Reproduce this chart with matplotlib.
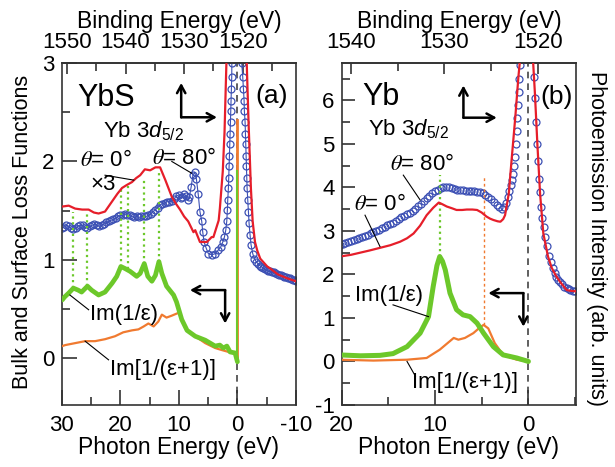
import matplotlib
matplotlib.use("Agg")
import matplotlib.pyplot as plt
from matplotlib.ticker import MultipleLocator, FixedLocator

plt.rcParams['font.family'] = ['Liberation Sans', 'DejaVu Sans']
plt.rcParams['mathtext.fontset'] = 'custom'
plt.rcParams['mathtext.rm'] = 'Liberation Sans'
plt.rcParams['mathtext.it'] = 'Liberation Sans:italic'
plt.rcParams['axes.unicode_minus'] = False

RED = '#e61e2a'
BLUE = '#3c50b4'
GREEN = '#6cc82a'
ORANGE = '#f07a30'
SPINE = '#333333'

# ---------------- Panel (a): YbS ----------------
be_offset_a = 1520.9
be_ticks_a = [1550, 1540, 1530, 1520]
be_minor_a = [1545, 1535, 1525, 1515]
blue_a_E = [30.0, 29.6, 29.2, 28.8, 28.4, 28.0, 27.6, 27.2, 26.8, 26.4, 26.0, 25.6, 25.2, 24.8,
            24.4, 24.0, 23.6, 23.2, 22.8, 22.4, 22.0, 21.6, 21.2, 20.8, 20.4, 20.0, 19.6, 19.2,
            18.8, 18.4, 18.0, 17.6, 17.2, 16.8, 16.4, 16.0, 15.6, 15.2, 14.8, 14.4, 14.0, 13.6,
            13.2, 12.8, 12.4, 12.0, 11.6, 11.2, 10.8, 10.4, 10.0, 9.7, 9.4, 9.1, 8.8, 8.5, 8.2,
            7.9, 7.6, 7.3, 7.0, 6.7, 6.4, 6.09, 5.92, 5.69, 5.35, 4.95, 4.38, 3.81, 3.24, 2.84,
            2.50, 2.22, 1.99, 1.82, 1.71, 1.65, 1.54, 1.48, 1.42, 1.37, 1.30, 1.25, 1.18, 1.14,
            1.08, 1.02, 0.97, 0.95, 0.1, -0.74, -0.91, -1.02, -1.14, -1.19, -1.31, -1.37, -1.42,
            -1.48, -1.54, -1.59, -1.65, -1.76, -1.88, -1.99, -2.16, -2.33, -2.62, -2.9, -3.2,
            -3.5, -3.8, -4.1, -4.4, -4.7, -5.0, -5.3, -5.6, -5.9, -6.2, -6.5, -6.8, -7.1, -7.4,
            -7.7, -8.0, -8.3, -8.6, -8.9, -9.2, -9.5, -9.8, -10.0]
blue_a_I = [1.32, 1.33, 1.35, 1.34, 1.32, 1.31, 1.32, 1.34, 1.35, 1.35, 1.33, 1.32, 1.34, 1.35,
            1.36, 1.35, 1.34, 1.35, 1.36, 1.38, 1.39, 1.40, 1.41, 1.42, 1.44, 1.45, 1.45, 1.46,
            1.45, 1.45, 1.44, 1.43, 1.44, 1.43, 1.44, 1.44, 1.44, 1.45, 1.47, 1.49, 1.51, 1.53,
            1.56, 1.57, 1.58, 1.59, 1.59, 1.60, 1.62, 1.65, 1.66, 1.63, 1.64, 1.67, 1.65, 1.61, 1.64,
            1.74, 1.86, 1.89, 1.82, 1.67, 1.49, 1.39, 1.28, 1.18, 1.12, 1.06, 1.05, 1.06, 1.10, 1.13,
            1.18, 1.23, 1.30, 1.39, 1.51, 1.61, 1.73, 1.83, 1.95, 2.06, 2.18, 2.28, 2.40, 2.51,
            2.62, 2.74, 2.86, 3.0, 3.6, 3.0, 2.86, 2.74, 2.62, 2.51, 2.40, 2.28, 2.18,
            2.06, 1.95, 1.83, 1.73, 1.61, 1.49, 1.37, 1.25, 1.15, 1.06, 1.01, 0.98,
            0.96, 0.94, 0.93, 0.91, 0.90, 0.89, 0.88, 0.88, 0.87, 0.87, 0.86, 0.85, 0.84, 0.84,
            0.83, 0.82, 0.82, 0.81, 0.81, 0.80, 0.79, 0.79, 0.78]

red_a_E = [30.0, 28.8, 27.7, 26.5, 25.4, 24.5, 23.7, 22.6, 21.9, 21.2, 20.5, 19.7, 18.9, 18.0,
           17.3, 16.6, 15.8, 14.9, 14.0, 13.2, 12.3, 11.2, 10.5, 9.8, 9.1, 8.4, 7.5, 7.2, 6.4,
           5.8, 5.2, 4.4, 4.1, 3.2, 3.0, 2.5, 2.2, 1.9, 1.6, 0.2, -1.4, -1.6, -1.9, -2.3, -2.6,
           -3.0, -3.4, -3.9, -5.1, -5.6, -6.9, -7.3, -8.5, -10.0]
red_a_I = [1.54, 1.55, 1.52, 1.51, 1.51, 1.48, 1.47, 1.49, 1.55, 1.61, 1.67, 1.73, 1.76, 1.79,
           1.83, 1.86, 1.92, 1.91, 1.94, 1.94, 1.81, 1.64, 1.57, 1.51, 1.44, 1.39, 1.28, 1.30, 1.18,
           1.18, 1.18, 1.23, 1.23, 1.40, 1.52, 1.90, 2.30, 2.96, 3.5, 4.5, 3.5, 2.98, 2.40, 1.73, 1.39,
           1.18, 1.09, 1.01, 0.93, 0.91, 0.85, 0.84, 0.81, 0.78]

green_a_E = [29.9, 29.5, 28.8, 28.0, 27.2, 26.6, 25.6, 24.9, 23.7, 22.6, 21.4, 20.6, 19.9, 19.2,
             18.3, 17.2, 16.6, 15.9, 15.3, 14.6, 14.0, 13.4, 12.9, 12.1, 10.9, 10.4, 9.5, 8.6,
             7.2, 5.5, 3.8, 3.0, 2.4, 1.8, 1.25, 0.4, 0.0]
green_a_I = [0.59, 0.62, 0.66, 0.71, 0.69, 0.67, 0.73, 0.69, 0.64, 0.67, 0.76, 0.83, 0.93, 0.91,
             0.88, 0.83, 0.86, 0.96, 0.83, 0.78, 0.84, 0.98, 0.86, 0.73, 0.64, 0.57, 0.39, 0.28,
             0.22, 0.18, 0.12, 0.13, 0.10, 0.12, 0.06, 0.05, -0.04]
green_a_spike = 1.90

orange_a_E = [29.9, 29.4, 27.7, 26.0, 24.3, 22.6, 20.9, 19.5, 18.0, 16.9, 16.0, 15.2, 14.3, 13.5,
              12.9, 12.1, 11.2, 10.4, 10.0, 9.5, 8.6, 7.2, 5.5, 3.8, 2.7, 1.5, 0.4, 0.0]
orange_a_I = [0.12, 0.13, 0.15, 0.17, 0.17, 0.19, 0.22, 0.26, 0.28, 0.29, 0.32, 0.35, 0.32, 0.37,
              0.44, 0.41, 0.43, 0.45, 0.46, 0.39, 0.28, 0.22, 0.15, 0.10, 0.08, 0.06, 0.04, 0.0]
orange_a_spike = 2.42

peaks_a_E = [28.0, 25.6, 19.9, 18.6, 15.9, 13.4]
peaks_a_bottom = [0.71, 0.73, 0.93, 0.90, 0.96, 0.98]
peaks_a_top = [1.49, 1.49, 1.73, 1.75, 1.83, 1.91]

# ---------------- Panel (b): Yb ----------------
be_offset_b = 1521.0
be_ticks_b = [1540, 1530, 1520]
be_minor_b = [1535, 1525]
blue_b_E = [20.2, 19.9, 19.6, 19.3, 19.0, 18.7, 18.4, 18.1, 17.8, 17.5, 17.2, 16.9, 16.6, 16.3,
            16.0, 15.7, 15.4, 15.1, 14.8, 14.5, 14.2, 13.9, 13.6, 13.3, 13.0, 12.7, 12.4, 12.1,
            11.8, 11.5, 11.2, 10.9, 10.6, 10.3, 10.0, 9.7, 9.4, 9.1, 8.8, 8.5, 8.2, 7.9, 7.6,
            7.3, 7.0, 6.7, 6.4, 6.1, 5.8, 5.5, 5.2, 4.9, 4.6, 4.3, 4.0, 3.7, 3.4, 3.1, 2.8,
            2.6, 2.4, 2.2, 2.05, 1.9, 1.75, 1.6, 1.52, 1.43, 1.32, 1.25, 1.18, 1.10, 1.03, 0.98,
            0.94, -0.65, -0.75, -0.85, -0.95, -1.05, -1.15, -1.25, -1.4, -1.5, -1.65, -1.8,
            -1.96, -2.2, -2.4, -2.6, -2.8, -3.0, -3.2, -3.4, -3.6, -3.8, -4.1, -4.3, -4.5,
            -4.8, -5.0]
blue_b_I = [2.68, 2.70, 2.72, 2.74, 2.76, 2.78, 2.81, 2.84, 2.86, 2.89, 2.91, 2.94, 2.97, 3.00,
            3.03, 3.06, 3.10, 3.13, 3.16, 3.19, 3.23, 3.27, 3.31, 3.34, 3.38, 3.42, 3.46, 3.51,
            3.57, 3.62, 3.68, 3.75, 3.81, 3.86, 3.91, 3.95, 3.98, 4.00, 4.01, 4.00, 3.98, 3.96, 3.94,
            3.94, 3.93, 3.92, 3.92, 3.92, 3.91, 3.90, 3.89, 3.87, 3.83, 3.78, 3.73, 3.67, 3.60, 3.54,
            3.51, 3.55, 3.65, 3.78, 3.92, 4.05, 4.18, 4.30, 4.50, 4.70, 5.00, 5.30, 5.60,
            5.90, 6.20, 6.50, 6.80, 6.54, 6.05, 5.50, 5.00, 4.60, 4.20, 3.90, 3.55, 3.30, 3.10,
            2.85, 2.65, 2.42, 2.28, 2.15, 2.04, 1.95, 1.88, 1.82, 1.77, 1.72, 1.68, 1.66, 1.64,
            1.62, 1.61]

red_b_E = [20.2, 19.0, 18.0, 17.0, 15.9, 14.8, 13.75, 13.0, 12.3, 11.6, 10.9, 10.2, 9.6, 9.2,
           8.75, 8.2, 7.7, 7.1, 6.6, 6.0, 5.5, 5.0, 4.5, 4.1, 3.75, 3.3, 3.0, 2.7, 2.5, 2.1,
           1.8, 1.4, 1.07, 0.9, 0.2, -0.5, -0.7, -0.96, -1.25, -1.6, -2.1, -2.5, -3.0, -3.5,
           -4.1, -4.6, -5.2]
red_b_I = [2.41, 2.45, 2.50, 2.55, 2.61, 2.67, 2.75, 2.83, 2.94, 3.12, 3.36, 3.53, 3.65, 3.61,
           3.56, 3.52, 3.48, 3.48, 3.49, 3.49, 3.48, 3.42, 3.33, 3.28, 3.25, 3.22, 3.21, 3.27,
           3.36, 3.86, 4.63, 5.62, 6.54, 6.92, 9.0, 6.9, 6.15, 5.0, 3.86, 2.94, 2.41, 2.15,
           1.95, 1.80, 1.64, 1.62, 1.61]

green_b_E = [20.2, 18.0, 15.9, 14.5, 13.0, 11.6, 10.7, 10.2, 9.8, 9.5, 9.2, 8.9, 8.4, 7.7, 7.0,
             6.25, 5.5, 4.8, 3.75, 2.7, 1.25, 0.0]
green_b_I = [0.15, 0.13, 0.14, 0.18, 0.34, 0.65, 1.03, 1.72, 2.20, 2.41, 2.30, 2.10, 1.57, 1.19,
             1.07, 1.03, 0.88, 0.65, 0.34, 0.15, 0.08, 0.0]

orange_b_E = [20.2, 16.6, 13.0, 10.9, 9.5, 8.0, 7.5, 6.8, 5.9, 5.2, 4.8, 4.3, 3.6, 2.7, 1.25, 0.0]
orange_b_I = [0.04, 0.02, 0.04, 0.08, 0.27, 0.54, 0.50, 0.54, 0.65, 0.78, 0.84, 0.76, 0.42, 0.15,
              0.04, 0.0]

green_b_mark_E = 9.5
green_b_mark = (2.41, 4.28)
orange_b_mark_E = 4.8
orange_b_mark = (0.84, 4.28)

# ---------------- figure ----------------
fig = plt.figure(figsize=(6.15, 4.67), dpi=100)
axa = fig.add_axes([0.1003, 0.1328, 0.381, 0.7317])
axb = fig.add_axes([0.5556, 0.1328, 0.381, 0.7317])


def style_axes(ax, xlim, ylim, major_len, off, be_major, be_minor):
    ax.set_xlim(*xlim)
    ax.set_ylim(*ylim)
    for s in ax.spines.values():
        s.set_color(SPINE)
        s.set_linewidth(1.2)
    ax.xaxis.set_major_locator(MultipleLocator(10))
    ax.xaxis.set_minor_locator(MultipleLocator(5))
    ax.yaxis.set_major_locator(MultipleLocator(1))
    ax.yaxis.set_minor_locator(MultipleLocator(0.5))
    ax.tick_params(axis='x', which='major', direction='in', length=11, width=1.2,
                   color=SPINE, labelsize=16, pad=7, top=False)
    ax.tick_params(axis='x', which='minor', direction='in', length=6, width=1.2,
                   color=SPINE, top=False)
    ax.tick_params(axis='y', which='major', direction='in', length=major_len, width=1.2,
                   color=SPINE, labelsize=16, pad=5, right=False)
    ax.tick_params(axis='y', which='minor', direction='in', length=6, width=1.2,
                   color=SPINE, right=False)
    ax.set_xlabel('Photon Energy (eV)', fontsize=16.5, labelpad=0)
    sec = ax.secondary_xaxis('top', functions=(lambda e: e + off, lambda b: b - off))
    sec.xaxis.set_major_locator(FixedLocator(be_major))
    sec.xaxis.set_minor_locator(FixedLocator(be_minor))
    sec.tick_params(which='major', direction='in', length=8, width=1.2, color=SPINE,
                    labelsize=16, pad=7.5)
    sec.tick_params(which='minor', direction='in', length=6, width=1.2, color=SPINE)
    sec.spines['top'].set_color(SPINE)
    sec.spines['top'].set_linewidth(1.2)
    sec.set_xlabel('Binding Energy (eV)', fontsize=16.5, labelpad=3)
    return sec


def arrow(ax, start, end):
    ax.annotate('', xy=end, xytext=start,
                arrowprops=dict(arrowstyle='->,head_length=0.55,head_width=0.3', lw=1.8,
                                color='k', shrinkA=0, shrinkB=0))


def leader(ax, p, q):
    ax.plot([p[0], q[0]], [p[1], q[1]], color='k', lw=0.8, zorder=5)


# ---- panel (a)
style_axes(axa, (30, -10), (-0.48, 3.0), 11, be_offset_a, be_ticks_a, be_minor_a)
axa.axvline(0, color='#444444', lw=1.2, ls=(0, (4, 3)), zorder=1)
axa.plot(blue_a_E, blue_a_I, '-o', color=BLUE, lw=0.8, ms=5, mfc='none', mec=BLUE, mew=0.9,
         zorder=2)
axa.plot(red_a_E, red_a_I, color=RED, lw=1.6, zorder=3)
for e, b, t in zip(peaks_a_E, peaks_a_bottom, peaks_a_top):
    axa.plot([e, e], [b, t], color=GREEN, lw=1.6, ls=(0, (1, 1.6)), zorder=2)
axa.plot(orange_a_E, orange_a_I, color=ORANGE, lw=1.6, zorder=3)
axa.plot([0, 0], [0, orange_a_spike], color=ORANGE, lw=2.0, zorder=3)
axa.plot(green_a_E, green_a_I, color=GREEN, lw=3.4, zorder=4, solid_capstyle='round')
axa.plot([0, 0], [-0.04, green_a_spike], color=GREEN, lw=1.5, zorder=4)

axa.text(27.4, 2.56, 'YbS', fontsize=22)
axa.text(-3.0, 2.67, '(a)', fontsize=19, va='center')
axa.text(22.9, 2.25, r'Yb 3$d_{5/2}$', fontsize=16)
axa.text(26.8, 1.95, r'$\theta$= 0°', fontsize=16, math_fontfamily='stix')
axa.text(25.1, 1.71, '×3', fontsize=16)
axa.text(14.6, 1.97, r'$\theta$= 80°', fontsize=16, math_fontfamily='stix')
axa.text(25.1, 0.39, 'Im(1/ε)', fontsize=16)
axa.text(21.7, -0.17, 'Im[1/(ε+1)]', fontsize=16)
leader(axa, (22.6, 1.86), (17.7, 1.81))
leader(axa, (11.2, 2.0), (7.8, 1.88))
leader(axa, (28.6, 0.64), (25.4, 0.49))
leader(axa, (26.0, 0.17), (22.0, -0.02))
arrow(axa, (9.6, 2.45), (9.6, 2.80))
arrow(axa, (9.6, 2.45), (3.5, 2.45))
arrow(axa, (2.1, 0.69), (8.1, 0.69))
arrow(axa, (2.1, 0.69), (2.1, 0.35))

# ---- panel (b)
style_axes(axb, (20, -5.1), (-1.0, 6.85), 9, be_offset_b, be_ticks_b, be_minor_b)
axb.axvline(0, color='#444444', lw=1.2, ls=(0, (4, 3)), zorder=1)
axb.plot(blue_b_E, blue_b_I, 'o', ms=5, mfc='none', mec=BLUE, mew=0.9, zorder=2)
axb.plot(red_b_E, red_b_I, color=RED, lw=1.6, zorder=3)
axb.plot([green_b_mark_E] * 2, green_b_mark, color=GREEN, lw=1.6, ls=(0, (1, 1.6)), zorder=2)
axb.plot([orange_b_mark_E] * 2, orange_b_mark, color=ORANGE, lw=1.0, ls=(0, (2, 2)), zorder=2)
axb.plot(orange_b_E, orange_b_I, color=ORANGE, lw=1.6, zorder=3)
axb.plot(green_b_E, green_b_I, color=GREEN, lw=3.6, zorder=4, solid_capstyle='round')

axb.text(17.8, 5.89, 'Yb', fontsize=22)
axb.text(-1.25, 6.07, '(b)', fontsize=19, va='center')
axb.text(17.2, 5.2, r'Yb 3$d_{5/2}$', fontsize=16)
axb.text(14.8, 4.4, r'$\theta$= 80°', fontsize=16, math_fontfamily='stix')
axb.text(18.7, 3.49, r'$\theta$= 0°', fontsize=16, math_fontfamily='stix')
axb.text(18.6, 1.38, 'Im(1/ε)', fontsize=16)
axb.text(12.5, -0.6, 'Im[1/(ε+1)]', fontsize=16)
leader(axb, (13.4, 4.28), (11.6, 3.71))
leader(axb, (17.5, 3.36), (15.9, 2.64))
leader(axb, (14.5, 1.30), (10.7, 1.03))
leader(axb, (13.0, 0.0), (12.1, -0.34))
arrow(axb, (6.96, 5.6), (6.96, 6.34))
arrow(axb, (6.96, 5.6), (3.39, 5.6))
arrow(axb, (0.54, 1.57), (4.29, 1.57))
arrow(axb, (0.54, 1.57), (0.54, 0.8))

# axis side labels
fig.text(23 / 615, 0.503, 'Bulk and Surface Loss Functions', rotation=90, fontsize=15.5,
         ha='center', va='center')
fig.text(596 / 615, 0.49, 'Photoemission Intensity (arb. units)', rotation=-90, fontsize=15.5,
         ha='center', va='center')

fig.savefig('out.png', dpi=100)
